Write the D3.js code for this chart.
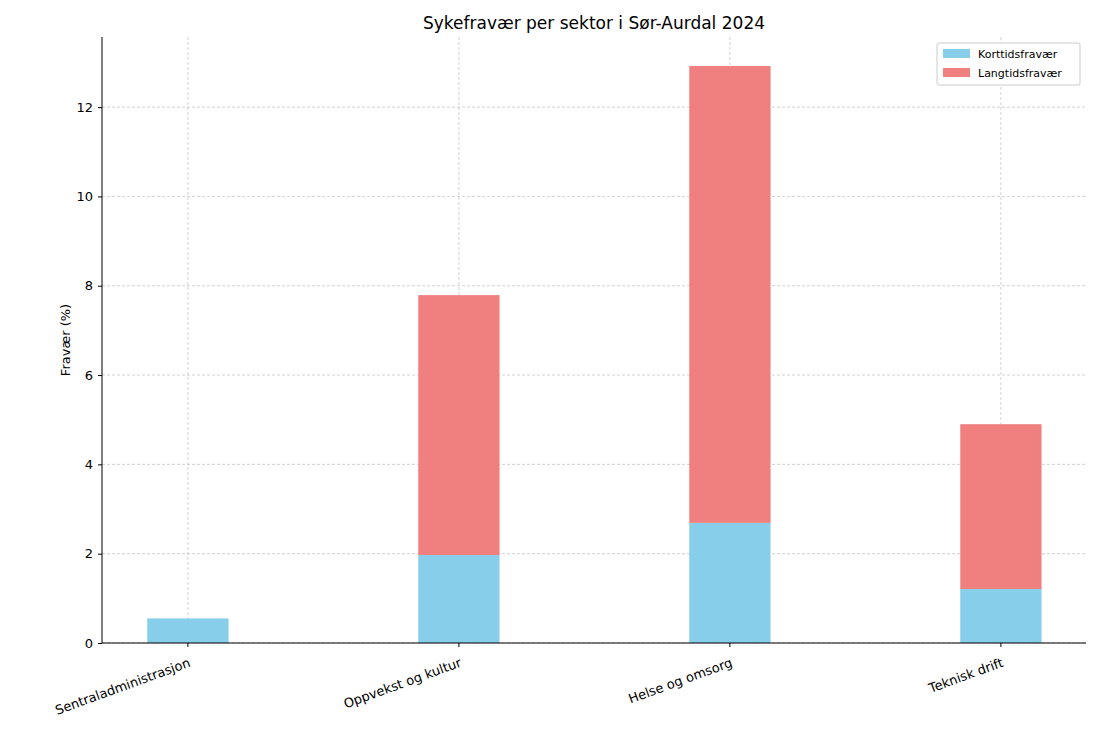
<!DOCTYPE html><html><head><meta charset="utf-8"><script src="https://cdn.jsdelivr.net/npm/d3@7"></script>
<style>body{margin:0;background:#fff}text{font-family:"DejaVu Sans",sans-serif}</style></head><body>
<svg id="c" width="1100" height="733"></svg>
<script>
const categories=["Sentraladministrasjon","Oppvekst og kultur","Helse og omsorg","Teknisk drift"];
const korttid=[0.55,1.97,2.69,1.21];
const langtid=[0,5.82,10.23,3.69];
const yTicks=[0,2,4,6,8,10,12];
const colors={k:"#87ceeb",l:"#f08080"};
const svg=d3.select("#c");
const L=102,R=1086,T=37,B=643;
const x=d3.scaleLinear().domain([-0.317,3.314]).range([L,R]);
const y=d3.scaleLinear().domain([0,13.57]).range([B,T]);
const bw=x(0.3)-x(0);
const g=svg.append("g");
// grid
g.selectAll(".gy").data(yTicks).join("line").attr("x1",L).attr("x2",R).attr("y1",d=>y(d)).attr("y2",d=>y(d)).attr("stroke","#b0b0b0").attr("stroke-dasharray","3,2").attr("stroke-width",0.8).attr("opacity",0.7);
g.selectAll(".gx").data(categories).join("line").attr("x1",(d,i)=>x(i)).attr("x2",(d,i)=>x(i)).attr("y1",T).attr("y2",B).attr("stroke","#b0b0b0").attr("stroke-dasharray","3,2").attr("stroke-width",0.8).attr("opacity",0.7);
g.selectAll(".k").data(korttid).join("rect").attr("x",(d,i)=>x(i)-bw/2).attr("width",bw).attr("y",d=>y(d)).attr("height",d=>B-y(d)).attr("fill",colors.k);
g.selectAll(".l").data(langtid).join("rect").attr("x",(d,i)=>x(i)-bw/2).attr("width",bw).attr("y",(d,i)=>y(d+korttid[i])).attr("height",(d,i)=>y(korttid[i])-y(d+korttid[i])).attr("fill",colors.l);
// axes
const ya=svg.append("g").attr("transform",`translate(${L},0)`).call(d3.axisLeft(y).tickValues(yTicks).tickSize(4).tickPadding(5));
ya.select(".domain").attr("d",`M0,${T}V${B}`);
ya.selectAll("text").attr("font-size",13).attr("fill","#000");
svg.append("line").attr("x1",L).attr("x2",R).attr("y1",B).attr("y2",B).attr("stroke","#000");
const xa=svg.append("g").attr("transform",`translate(0,${B})`);
categories.forEach((c,i)=>{
 xa.append("line").attr("x1",x(i)).attr("x2",x(i)).attr("y1",0).attr("y2",4).attr("stroke","#000");
 xa.append("text").attr("transform",`translate(${x(i)},14) rotate(-20)`).attr("text-anchor","end").attr("dy","0.75em").attr("font-size",13).text(c);
});
svg.append("text").attr("x",594).attr("y",29).attr("text-anchor","middle").attr("font-size",17).text("Sykefravær per sektor i Sør-Aurdal 2024");
svg.append("text").attr("transform",`translate(70,340) rotate(-90)`).attr("text-anchor","middle").attr("font-size",13).text("Fravær (%)");
const lg=svg.append("g").attr("transform","translate(937,43)");
lg.append("rect").attr("width",143).attr("height",42).attr("fill","#fff").attr("stroke","#ccc").attr("rx",2);
[["Korttidsfravær",colors.k],["Langtidsfravær",colors.l]].forEach((d,i)=>{
 lg.append("rect").attr("x",6).attr("y",6+i*19).attr("width",27).attr("height",9).attr("fill",d[1]);
 lg.append("text").attr("x",41).attr("y",15+i*19).attr("font-size",11).text(d[0]);
});
</script></body></html>
